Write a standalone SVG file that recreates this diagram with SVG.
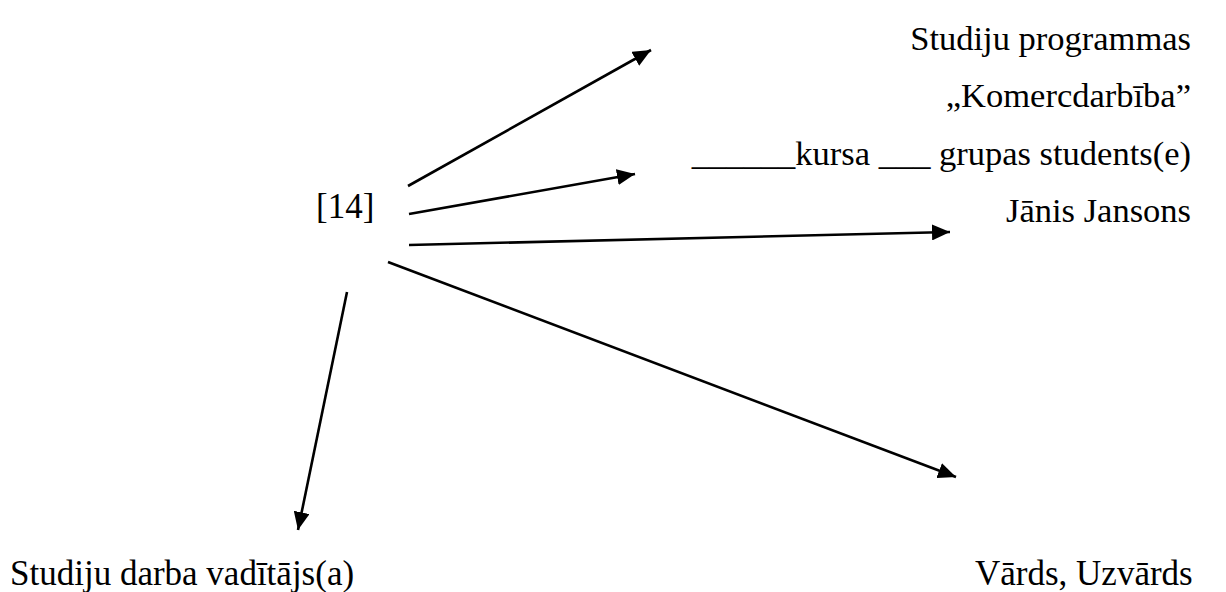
<svg xmlns="http://www.w3.org/2000/svg" width="1226" height="592" viewBox="0 0 1226 592">
<style>
text{font-family:'Liberation Serif','DejaVu Serif',serif;font-size:35px;fill:#000}
.r{text-anchor:end;font-size:34.5px}
.c line{stroke:#000;stroke-width:2.6}
</style>
<defs>
<marker id="ah" markerUnits="userSpaceOnUse" markerWidth="20" markerHeight="16" refX="18" refY="8" orient="auto">
<path d="M0,0 L18,8 L0,16 Z" fill="#000"/>
</marker>
</defs>
<rect width="1226" height="592" fill="#fff"/>
<g id="src"><text x="316" y="218" font-family="Liberation Serif, serif">[14]</text></g>
<g id="n1"><text class="r" x="1191" y="50" font-family="Liberation Serif, serif">Studiju programmas</text></g>
<g id="n2"><text class="r" x="1191" y="107" font-family="Liberation Serif, serif">„Komercdarbība”</text></g>
<g id="n3"><text class="r" x="1191" y="165" font-family="Liberation Serif, serif">______kursa ___ grupas students(e)</text></g>
<g id="n4"><text class="r" x="1191" y="222" font-family="Liberation Serif, serif">Jānis Jansons</text></g>
<g id="n5"><text x="10" y="585" font-family="Liberation Serif, serif">Studiju darba vadītājs(a)</text></g>
<g id="n6"><text x="975" y="585" font-family="Liberation Serif, serif">Vārds, Uzvārds</text></g>
<g class="c">
<line x1="408" y1="186" x2="651" y2="50" marker-end="url(#ah)"/>
<line x1="409" y1="214" x2="635" y2="174" marker-end="url(#ah)"/>
<line x1="409" y1="245" x2="950" y2="232" marker-end="url(#ah)"/>
<line x1="388" y1="262" x2="956" y2="477" marker-end="url(#ah)"/>
<line x1="347" y1="292" x2="298" y2="530" marker-end="url(#ah)"/>
</g>
</svg>
